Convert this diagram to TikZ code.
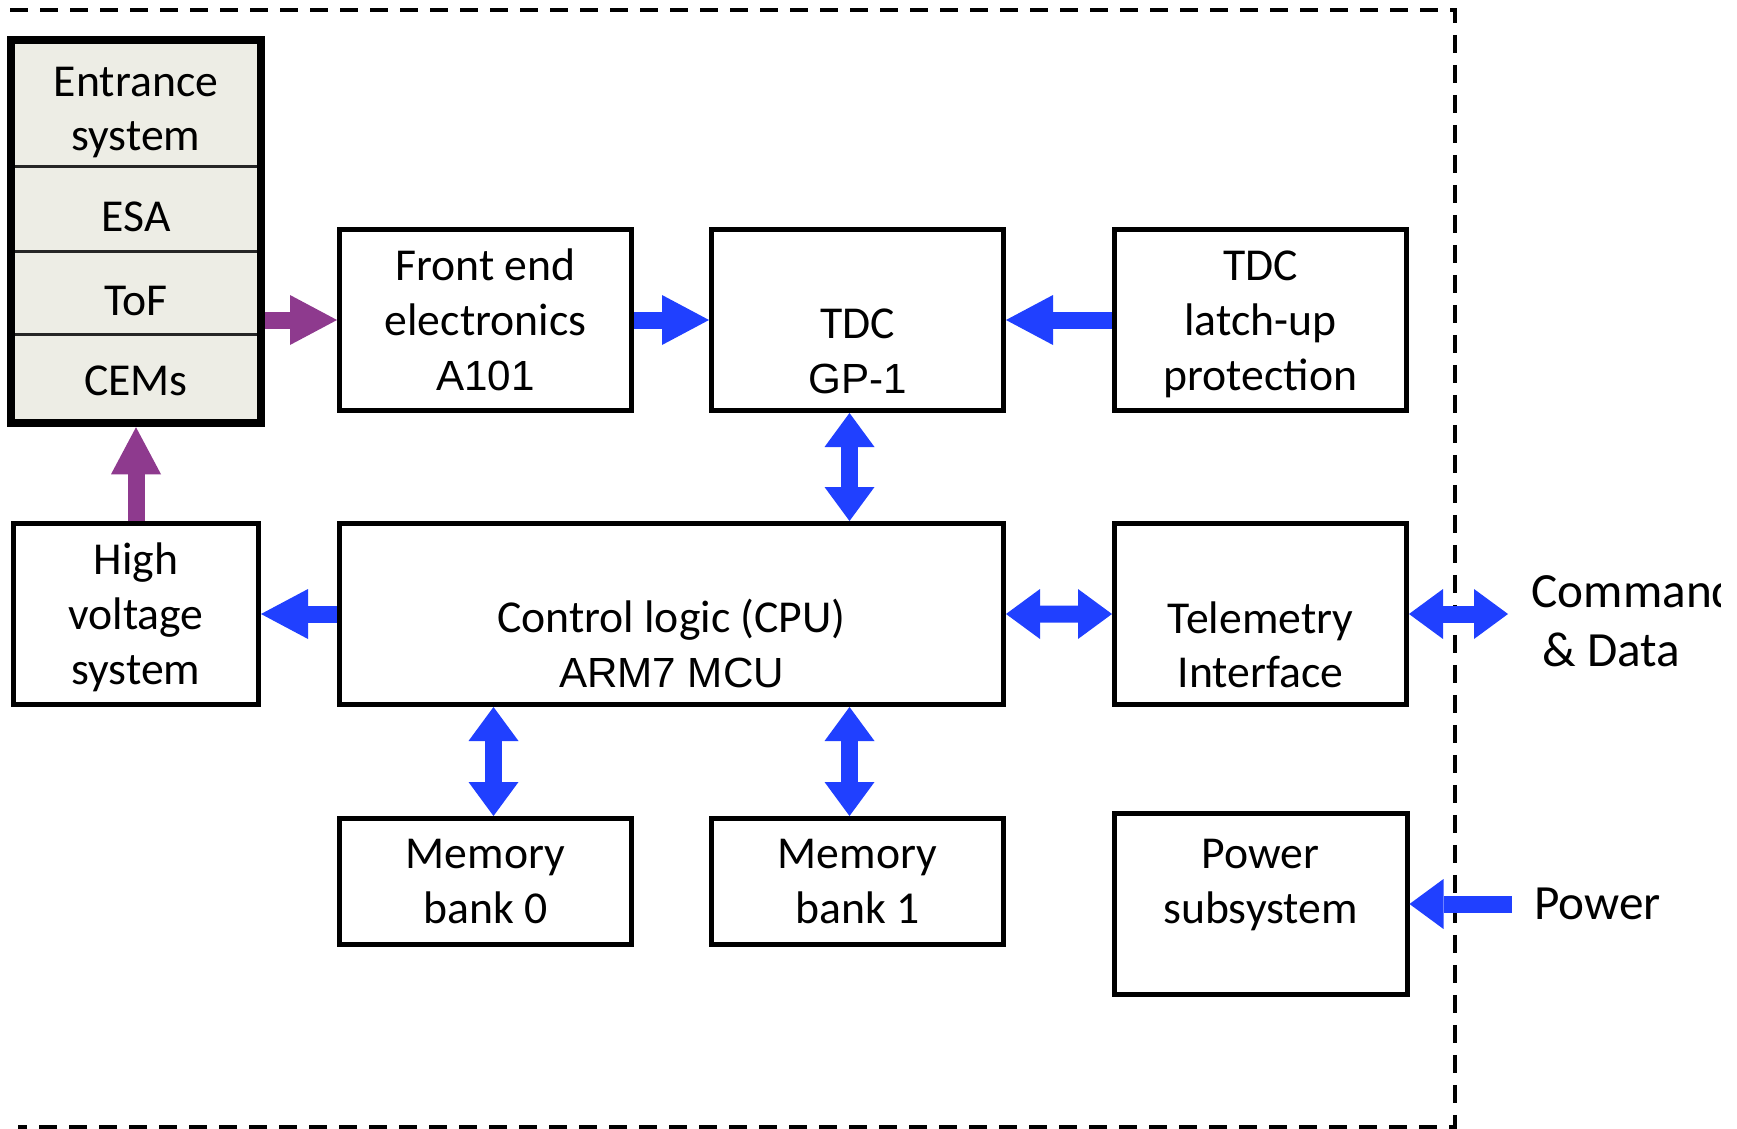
\documentclass[tikz,border=0pt]{standalone}
\usepackage{fontspec}
\setmainfont{Carlito}
\newfontfamily\arialfont{Liberation Sans}
\usepackage{tikz}
\usetikzlibrary{arrows.meta,positioning,calc,fit}
\definecolor{flowblue}{RGB}{32,64,255}
\definecolor{hvpurple}{RGB}{142,58,142}
\definecolor{cellfill}{RGB}{237,237,229}
\newcommand{\partno}[1]{{\arialfont\fontsize{12pt}{15.6pt}\selectfont #1}}

\begin{document}
\begin{tikzpicture}[
    x=0.1mm, y=-0.1mm,
    font=\fontsize{13pt}{15.6pt}\selectfont,
    tipL/.tip={Triangle[length=4.7mm 0, width=5mm 0, line width=0pt 0]},
    tipS/.tip={Triangle[length=3.4mm 0, width=5mm 0, line width=0pt 0]},
    >=tipL,
    box/.style={draw, line width=0.5mm, align=center, inner sep=1pt,
                minimum width=29.2mm, minimum height=18.1mm},
    mem/.style={box, minimum height=12.6mm},
    cell/.style={draw=black!85, line width=0.15mm, fill=cellfill, align=center,
                 inner sep=0pt, minimum width=24.8mm, text height=13pt, text depth=0pt},
    flow/.style={line width=1.7mm, flowblue},
    hvflow/.style={flow, hvpurple},
    both/.style={flow, tipS-tipS},
    inflow/.style={flow, -tipS},
    lbl/.style={inner sep=0pt, align=left, font=\fontsize{14pt}{17pt}\selectfont},
  ]
  \useasboundingbox (0,0) rectangle (1737,1128);

  % instrument boundary
  \draw[line width=0.33mm, dash pattern=on 1.8mm off 1.2mm]
    (10,10) -- (1455,10) -- (1455,1127) -- (18,1127);

  % sensor stack
  \node[cell, minimum height=12.5mm, text height=27pt] (ent) at (136,103.5) {Entrance\\system};
  \node[cell, minimum height=8.3mm, below=0pt of ent] (esa) {ESA};
  \node[cell, minimum height=8.2mm, below=0pt of esa] (tof) {ToF};
  \node[cell, minimum height=8.7mm, text height=9.5pt, below=0pt of tof] (cems) {CEMs};
  \node[draw, line width=0.8mm, inner sep=0pt, fit=(ent)(cems)] (stack) {};

  % electronics
  \node[box] (fe) at (485.5,320) {Front end\\electronics\\\partno{A101}};
  \node[box, right=7.5mm of fe] (tdc) {\strut\\TDC\\\partno{GP-1}};
  \node[box, right=10.6mm of tdc] (latch) {\strut TDC\\latch-up\\protection};
  \node[box, minimum width=66.4mm, below=10.8mm of {$(fe.south)!0.5!(tdc.south)$}] (cpu)
    {\strut\\Control logic (CPU)\\\partno{ARM7 MCU}};
  \node[box, below=10.8mm of latch] (tel) {\strut\\Telemetry\\Interface};
  \node[box, minimum width=24.5mm, left=7.6mm of cpu] (hv) {\strut High\\voltage\\system};

  \coordinate (m0) at ([xshift=0.8mm]cpu.south -| fe);
  \coordinate (m1) at ([xshift=-0.8mm]cpu.south -| tdc);
  \node[mem, below=10.9mm of m0, xshift=-0.8mm] (mem0) {Memory\\bank 0};
  \node[mem, below=10.9mm of m1, xshift=0.8mm] (mem1) {Memory\\bank 1};
  \node[box, minimum width=29.3mm, below=10.4mm of tel] (pwr) {\strut Power\\subsystem\\\mbox{}};

  % outside world
  \coordinate[right=9.9mm of tel] (cmd);
  \coordinate[right=10.2mm of pwr] (supply);
  \begin{scope}
    \clip (0,0) rectangle (1720,1128);
    \node[lbl, right=2.3mm of cmd, yshift=-0.6mm] (cmdlbl) {Commands\\\hspace*{1.1mm}\& Data};
  \end{scope}
  \node[lbl, right=2.2mm of supply] (pwrlbl) {Power};

  % flows
  \draw[hvflow, ->] (stack.east |- fe) -- (fe.west);
  \draw[hvflow, ->] (hv.north) -- (hv.north |- stack.south);
  \draw[flow, ->] (fe) -- (tdc);
  \draw[flow, ->] (latch) -- (tdc);
  \draw[both] ([xshift=-0.8mm]tdc.south) -- (m1 |- cpu.north);
  \draw[flow, ->] (cpu.west) -- (hv.east);
  \draw[both] (cpu.east) -- (tel.west);
  \draw[both] (tel.east) -- (cmd);
  \draw[both] (m0 |- mem0.north) -- (m0);
  \draw[both] (m1 |- mem1.north) -- (m1);
  \draw[inflow] (supply) -- (pwr.east);
\end{tikzpicture}
\end{document}
